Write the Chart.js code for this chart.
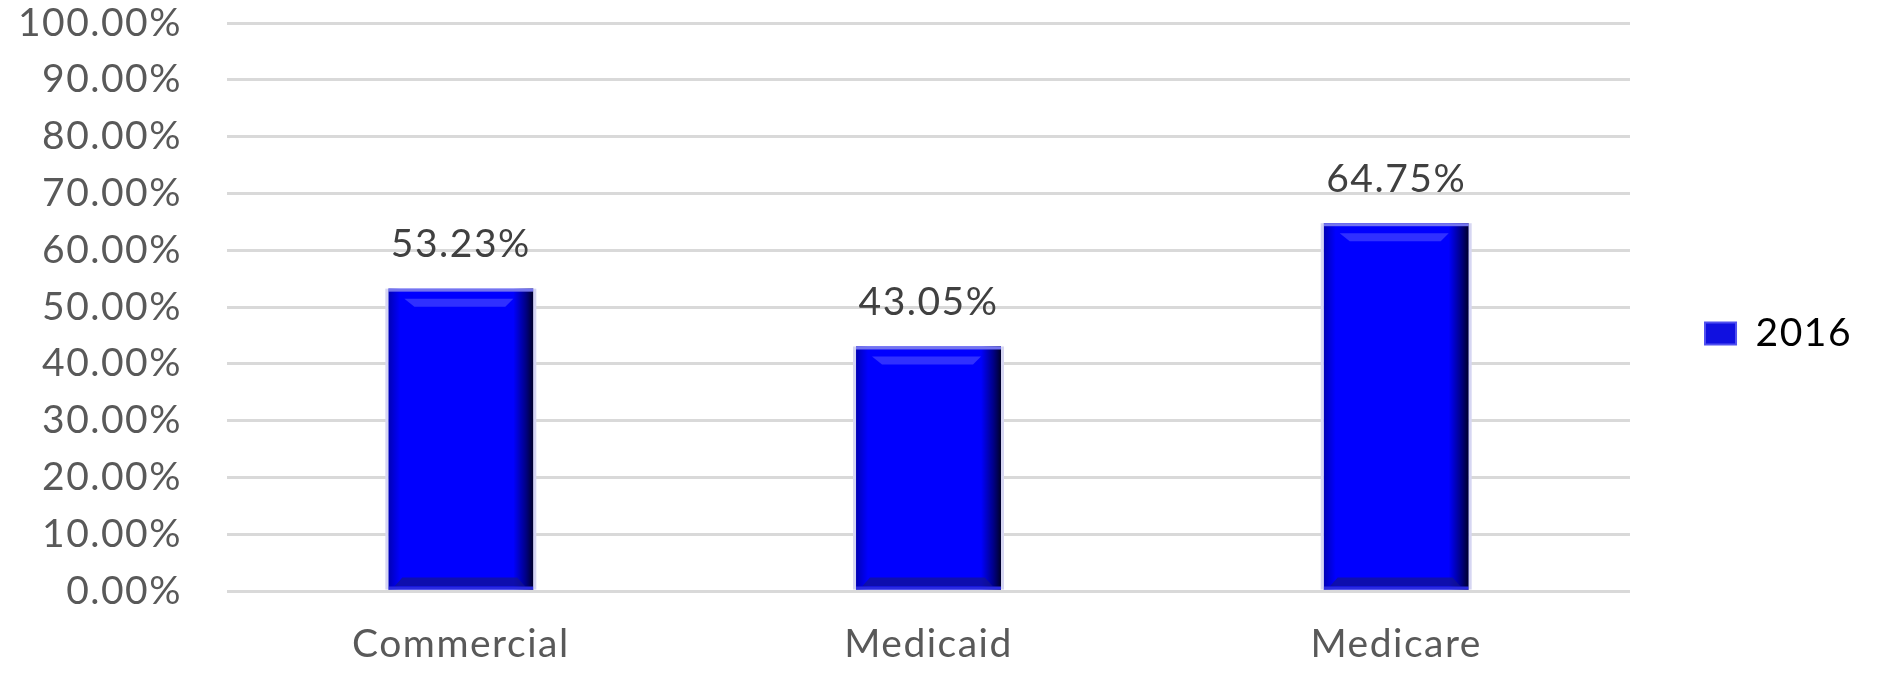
<!DOCTYPE html>
<html>
<head>
<meta charset="utf-8">
<script src="https://cdn.jsdelivr.net/npm/chart.js@4.4.1/dist/chart.umd.min.js"></script>
<style>
  html, body { margin: 0; padding: 0; background: #ffffff; }
  #wrap { width: 1880px; height: 687px; position: relative; }
</style>
</head>
<body>
<div id="wrap"><canvas id="c"></canvas></div>
<script>
const categories = ['Commercial', 'Medicaid', 'Medicare'];
const seriesName = '2016';
const values2016 = [53.23, 43.05, 64.75];
const yTickMin = 0;
const yTickMax = 100;
const yTickStep = 10;

const FONT = 'Lato, "Open Sans", sans-serif';
const FSIZE = 39;
const SPACING = '1.5px';

const spacingPlugin = {
  id: 'spacing',
  beforeUpdate(chart) { chart.ctx.letterSpacing = SPACING; },
  beforeLayout(chart) { chart.ctx.letterSpacing = SPACING; },
  beforeDraw(chart) { chart.ctx.letterSpacing = SPACING; }
};

const bevelPlugin = {
  id: 'bevel',
  afterDatasetsDraw(chart) {
    const ctx = chart.ctx;
    const meta = chart.getDatasetMeta(0);
    meta.data.forEach((bar) => {
      const p = bar.getProps(['x', 'y', 'base', 'width'], true);
      const l = p.x - p.width / 2, r = p.x + p.width / 2, t = p.y, b = p.base;
      const w = r - l, h = b - t;
      ctx.save();
      let g = ctx.createLinearGradient(l, 0, l + 12, 0);
      g.addColorStop(0, 'rgba(0,0,120,0.55)');
      g.addColorStop(1, 'rgba(0,0,120,0)');
      ctx.fillStyle = g;
      ctx.fillRect(l, t, 12, h);
      g = ctx.createLinearGradient(r - 20, 0, r, 0);
      g.addColorStop(0, 'rgba(0,0,60,0)');
      g.addColorStop(0.6, 'rgba(0,0,60,0.6)');
      g.addColorStop(1, 'rgba(0,0,40,1)');
      ctx.fillStyle = g;
      ctx.fillRect(r - 20, t, 20, h);
      ctx.fillStyle = 'rgba(80,80,255,0.6)';
      ctx.beginPath();
      ctx.moveTo(l + 16, t + 10);
      ctx.lineTo(r - 20, t + 10);
      ctx.lineTo(r - 28, t + 18);
      ctx.lineTo(l + 26, t + 18);
      ctx.closePath();
      ctx.fill();
      ctx.fillStyle = '#7474ee';
      ctx.fillRect(l, t, w, 3);
      ctx.fillStyle = 'rgba(20,20,140,0.7)';
      ctx.beginPath();
      ctx.moveTo(l + 14, b - 12);
      ctx.lineTo(r - 16, b - 12);
      ctx.lineTo(r - 8, b - 3);
      ctx.lineTo(l + 6, b - 3);
      ctx.closePath();
      ctx.fill();
      ctx.fillStyle = '#2a2ae0';
      ctx.fillRect(l, b - 3, w, 3);
      ctx.fillStyle = '#d6d6f2';
      ctx.fillRect(l - 3, t, 3, h);
      ctx.fillRect(r, t, 3, h);
      ctx.restore();
    });
  }
};

const labelPlugin = {
  id: 'valueLabels',
  afterDatasetsDraw(chart) {
    const ctx = chart.ctx;
    const ds = chart.data.datasets[0];
    const meta = chart.getDatasetMeta(0);
    ctx.save();
    ctx.letterSpacing = SPACING;
    ctx.font = FSIZE + 'px ' + FONT;
    ctx.fillStyle = '#404040';
    ctx.textAlign = 'center';
    ctx.textBaseline = 'middle';
    meta.data.forEach((bar, i) => {
      ctx.fillText(ds.data[i].toFixed(2) + '%', bar.x, bar.y - 44);
    });
    ctx.restore();
  }
};

new Chart(document.getElementById('c'), {
  type: 'bar',
  data: {
    labels: categories,
    datasets: [{
      label: seriesName,
      data: values2016,
      backgroundColor: '#0000ff',
      borderWidth: 0,
      barPercentage: 0.31,
      categoryPercentage: 1.0
    }]
  },
  options: {
    responsive: true,
    maintainAspectRatio: false,
    animation: false,
    devicePixelRatio: 1,
    layout: { padding: { left: 0, right: 18, top: -20, bottom: 0 } },
    plugins: {
      legend: {
        position: 'right',
        labels: {
          boxWidth: 31,
          boxHeight: 22,
          padding: 75,
          color: '#595959',
          font: { family: FONT, size: FSIZE },
          generateLabels(chart) {
            return [{
              text: seriesName,
              fillStyle: '#1010e0',
              strokeStyle: '#5050f0',
              lineWidth: 2,
              hidden: false,
              datasetIndex: 0
            }];
          }
        }
      },
      tooltip: { enabled: false }
    },
    scales: {
      x: {
        grid: { display: false, drawTicks: false },
        border: { display: false },
        ticks: { color: '#595959', font: { family: FONT, size: FSIZE }, padding: 30 },
        afterFit(s) { s.height = 96; }
      },
      y: {
        min: yTickMin,
        max: yTickMax,
        grid: { color: '#d9d9d9', lineWidth: 3, drawTicks: false },
        border: { display: false },
        ticks: {
          stepSize: yTickStep,
          color: '#595959',
          font: { family: FONT, size: FSIZE },
          padding: 45,
          callback: (v) => v.toFixed(2) + '%'
        },
        afterFit(s) { s.width = 227; s.paddingTop = 23; s.paddingBottom = 0; }
      }
    }
  },
  plugins: [spacingPlugin, bevelPlugin, labelPlugin]
});
</script>
</body>
</html>
